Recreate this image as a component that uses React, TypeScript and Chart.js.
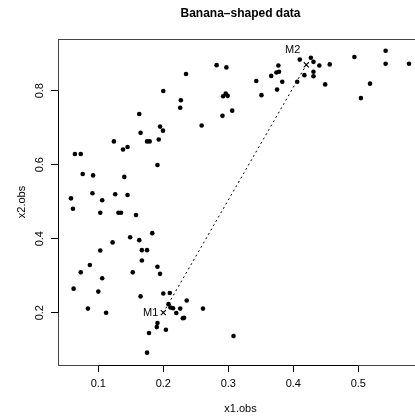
import React, { useEffect, useRef } from 'react';
import { Chart, registerables } from 'chart.js';

Chart.register(...registerables);

// ---- data ----
const x1Obs = [
  0.235, 0.200, 0.227, 0.226, 0.163, 0.195, 0.1995, 0.165, 0.124, 0.175,
  0.179, 0.193, 0.145, 0.138, 0.282, 0.297, 0.292, 0.296, 0.299, 0.259,
  0.291, 0.306, 0.343, 0.351, 0.366, 0.374, 0.378, 0.377, 0.383, 0.375,
  0.410, 0.406, 0.427, 0.431, 0.440, 0.417, 0.431, 0.431, 0.449, 0.456,
  0.494, 0.542, 0.542, 0.578, 0.518, 0.504, 0.064, 0.073, 0.191, 0.076,
  0.092, 0.140, 0.091, 0.126, 0.145, 0.058, 0.106, 0.061, 0.103, 0.131,
  0.135, 0.158, 0.183, 0.149, 0.163, 0.122, 0.103, 0.167, 0.175, 0.167,
  0.087, 0.191, 0.073, 0.153, 0.195, 0.106, 0.062, 0.100, 0.165, 0.200,
  0.210, 0.236, 0.084, 0.112, 0.208, 0.211, 0.215, 0.226, 0.220, 0.230,
  0.232, 0.261, 0.191, 0.190, 0.204, 0.178, 0.175, 0.308,
];
const x2Obs = [
  0.845, 0.799, 0.774, 0.754, 0.737, 0.703, 0.692, 0.686, 0.663, 0.663,
  0.663, 0.668, 0.648, 0.641, 0.869, 0.863, 0.785, 0.792, 0.786, 0.706,
  0.732, 0.746, 0.826, 0.788, 0.840, 0.849, 0.851, 0.868, 0.824, 0.803,
  0.884, 0.824, 0.889, 0.878, 0.868, 0.842, 0.851, 0.839, 0.817, 0.871,
  0.891, 0.908, 0.873, 0.873, 0.819, 0.780, 0.629, 0.629, 0.599, 0.575,
  0.571, 0.567, 0.523, 0.520, 0.518, 0.509, 0.504, 0.481, 0.470, 0.470,
  0.470, 0.464, 0.415, 0.404, 0.396, 0.390, 0.368, 0.369, 0.369, 0.341,
  0.329, 0.324, 0.309, 0.309, 0.305, 0.293, 0.265, 0.257, 0.244, 0.252,
  0.253, 0.233, 0.211, 0.200, 0.223, 0.214, 0.212, 0.211, 0.199, 0.185,
  0.186, 0.211, 0.172, 0.161, 0.154, 0.145, 0.092, 0.137,
];
const centerNames = ['M1', 'M2'];
const centerX1 = [0.2, 0.42];
const centerX2 = [0.2, 0.87];

const xTicks = [0.1, 0.2, 0.3, 0.4, 0.5];
const xTickLabels = ['0.1', '0.2', '0.3', '0.4', '0.5'];
const yTicks = [0.2, 0.4, 0.6, 0.8];
const yTickLabels = ['0.2', '0.4', '0.6', '0.8'];

const titleText = 'Banana\u2013shaped data';
const xTitle = 'x1.obs';
const yTitle = 'x2.obs';

const X_MIN = 0.038;
const X_MAX = 0.5995;
const Y_MIN = 0.0586;
const Y_MAX = 0.9397;

const FONT = "'Liberation Sans', Arial, Helvetica, sans-serif";

const rStylePlugin = {
  id: 'rStyle',
  afterDraw(chart: any) {
    const { ctx, chartArea: a, scales } = chart;
    const xs = scales.x;
    const ys = scales.y;
    ctx.save();
    // plot box
    ctx.strokeStyle = '#444';
    ctx.lineWidth = 1;
    const L = Math.round(a.left) + 0.5;
    const T = Math.round(a.top) + 0.5;
    const B = Math.round(a.bottom) + 0.5;
    ctx.strokeRect(L, T, a.right - a.left, B - T);
    // axis lines between first and last tick
    ctx.strokeStyle = '#000';
    ctx.beginPath();
    ctx.moveTo(xs.getPixelForValue(xTicks[0]), B);
    ctx.lineTo(xs.getPixelForValue(xTicks[xTicks.length - 1]), B);
    ctx.moveTo(L, ys.getPixelForValue(yTicks[0]));
    ctx.lineTo(L, ys.getPixelForValue(yTicks[yTicks.length - 1]));
    ctx.stroke();

    // rotated y tick labels
    ctx.fillStyle = '#000';
    ctx.font = `11px ${FONT}`;
    ctx.textAlign = 'center';
    ctx.textBaseline = 'middle';
    yTicks.forEach((v, i) => {
      const py = ys.getPixelForValue(v);
      ctx.save();
      ctx.translate(a.left - 18.5, py);
      ctx.rotate(-Math.PI / 2);
      ctx.fillText(yTickLabels[i], 0, 0);
      ctx.restore();
    });

    // main title
    ctx.font = `bold 12px ${FONT}`;
    ctx.fillText(titleText, (a.left + a.right) / 2, 14);

    // center labels
    ctx.font = `11px ${FONT}`;
    ctx.textAlign = 'right';
    const p1x = xs.getPixelForValue(centerX1[0]);
    const p1y = ys.getPixelForValue(centerX2[0]);
    ctx.fillText(centerNames[0], p1x - 5, p1y);
    const p2x = xs.getPixelForValue(centerX1[1]);
    const p2y = ys.getPixelForValue(centerX2[1]);
    ctx.fillText(centerNames[1], p2x - 6, p2y - 14.5);
    ctx.restore();
  },
};

export default function App() {
  const canvasRef = useRef<HTMLCanvasElement | null>(null);

  useEffect(() => {
    const canvas = canvasRef.current;
    if (!canvas) return;
    const obs = x1Obs.map((x, i) => ({ x, y: x2Obs[i] }));
    const centers = centerX1.map((x, i) => ({ x, y: x2Obs.length ? centerX2[i] : 0 }));

    const chart = new Chart(canvas, {
      type: 'scatter',
      data: {
        datasets: [
          {
            label: 'obs',
            data: obs,
            backgroundColor: '#000',
            borderColor: '#000',
            borderWidth: 0,
            pointRadius: 2.3,
            pointStyle: 'circle',
          },
          {
            label: 'link',
            data: centers,
            showLine: true,
            borderColor: '#000',
            borderWidth: 1,
            borderDash: [2, 3],
            pointRadius: 0,
            fill: false,
          },
          {
            label: 'centers',
            data: centers,
            pointStyle: 'crossRot',
            pointRadius: 3.6,
            borderColor: '#000',
            borderWidth: 1.1,
            backgroundColor: '#000',
          },
        ],
      },
      options: {
        responsive: false,
        animation: false,
        devicePixelRatio: 1,
        events: [],
        layout: { padding: { top: 39, right: 7, left: 0, bottom: 0 } },
        plugins: {
          legend: { display: false },
          tooltip: { enabled: false },
          title: { display: false },
        },
        scales: {
          x: {
            type: 'linear',
            position: 'bottom',
            min: X_MIN,
            max: X_MAX,
            afterBuildTicks: (s: any) => {
              s.ticks = xTicks.map((v) => ({ value: v }));
            },
            afterFit: (s: any) => {
              s.height = 51;
            },
            ticks: {
              autoSkip: false,
              maxRotation: 0,
              minRotation: 0,
              padding: 5.5,
              color: '#000',
              font: { family: FONT, size: 11, lineHeight: 1.2 },
              callback: (v: any) => {
                const i = xTicks.findIndex((t) => Math.abs(t - Number(v)) < 1e-9);
                return i >= 0 ? xTickLabels[i] : '';
              },
            },
            grid: {
              drawOnChartArea: false,
              drawTicks: true,
              tickLength: 7,
              color: '#000',
              lineWidth: 1,
            },
            border: { display: false },
            title: {
              display: true,
              text: xTitle,
              color: '#000',
              font: { family: FONT, size: 11, lineHeight: 1.2 },
              padding: { top: 0, bottom: 0 },
            },
          },
          y: {
            type: 'linear',
            position: 'left',
            min: Y_MIN,
            max: Y_MAX,
            afterBuildTicks: (s: any) => {
              s.ticks = yTicks.map((v) => ({ value: v }));
            },
            afterFit: (s: any) => {
              s.width = 58;
            },
            ticks: { display: false },
            grid: {
              drawOnChartArea: false,
              drawTicks: true,
              tickLength: 7,
              color: '#000',
              lineWidth: 1,
            },
            border: { display: false },
            title: {
              display: true,
              text: yTitle,
              color: '#000',
              font: { family: FONT, size: 11, lineHeight: 1.2 },
              padding: { top: 15.4, bottom: 0 },
            },
          },
        },
      },
      plugins: [rStylePlugin],
    } as any);

    return () => {
      chart.destroy();
    };
  }, []);

  return (
    <div
      style={{
        position: 'absolute',
        left: 0,
        top: 0,
        width: 415,
        height: 416,
        overflow: 'hidden',
        background: '#fff',
      }}
    >
      <canvas ref={canvasRef} width={430} height={416} style={{ display: 'block' }} />
    </div>
  );
}
